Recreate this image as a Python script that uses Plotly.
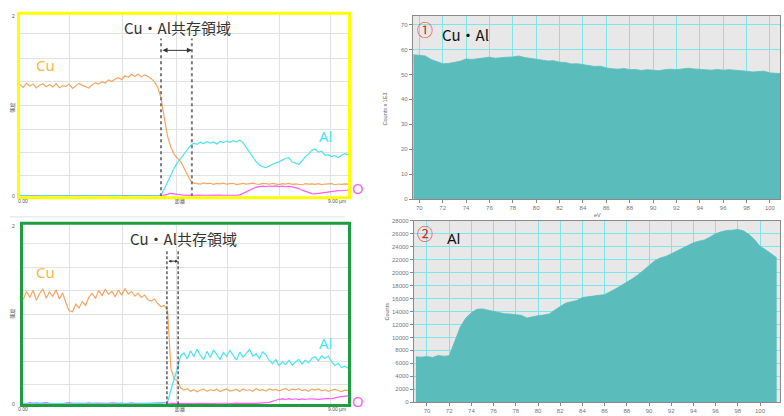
import plotly.graph_objects as go

W, H = 784, 416

# ---------------- data ----------------
dist = list(range(101))  # distance index along line scan

cu_top = [61.5, 60.0, 62.3, 60.8, 61.9, 59.7, 61.2, 62.0, 60.4, 61.6,
          60.2, 62.1, 59.8, 61.0, 60.5, 61.8, 59.4, 60.9, 62.2, 61.1,
          60.3, 59.6, 61.4, 62.5, 61.9, 63.0, 62.4, 64.1, 63.2, 64.6,
          65.3, 64.2, 66.4, 65.6, 67.2, 66.0, 67.4, 65.8, 66.9, 66.1,
          64.8, 63.0, 60.0, 54.0, 43.0, 33.0, 27.0, 23.0, 21.0, 19.0,
          15.5, 12.0, 8.5, 7.2, 7.0, 6.6, 7.3, 6.9, 7.1, 6.5,
          7.0, 6.8, 7.2, 6.6, 6.9, 7.1, 6.4, 6.9, 7.0, 6.6,
          6.8, 7.2, 6.7, 6.5, 7.0, 6.8, 6.6, 7.1, 6.7, 6.4,
          6.9, 6.6, 7.0, 6.5, 6.8, 6.7, 6.3, 6.9, 6.6, 6.8,
          6.5, 6.9, 6.4, 6.7, 6.6, 6.9, 6.3, 6.7, 6.5, 6.8,
          6.6]
al_top = [0.3, 0.2, 0.4, 0.2, 0.3, 0.1, 0.3, 0.2, 0.4, 0.2,
          0.3, 0.2, 0.1, 0.3, 0.2, 0.4, 0.2, 0.3, 0.1, 0.2,
          0.3, 0.4, 0.2, 0.3, 0.1, 0.2, 0.3, 0.2, 0.4, 0.2,
          0.3, 0.1, 0.2, 0.3, 0.2, 0.4, 0.3, 0.2, 0.1, 0.3,
          0.3, 0.2, 0.3, 0.8, 4.0, 8.0, 12.0, 15.5, 18.5, 21.0,
          23.5, 26.0, 28.0, 29.2, 28.6, 29.8, 29.0, 30.1, 29.3, 29.9,
          28.8, 30.2, 29.5, 30.4, 29.7, 30.6, 30.0, 30.9, 29.5, 26.8,
          24.0, 21.4, 19.0, 17.2, 16.2, 15.8, 16.8, 17.6, 18.4, 18.9,
          19.8, 20.9, 21.2, 18.8, 18.2, 17.6, 19.5, 21.8, 23.3, 25.4,
          25.9, 24.3, 24.8, 22.5, 22.9, 21.8, 22.4, 21.2, 22.6, 23.4,
          22.8]
o_top = [0.2, 0.3, 0.1, 0.2, 0.3, 0.2, 0.1, 0.2, 0.3, 0.2,
         0.2, 0.1, 0.3, 0.2, 0.2, 0.3, 0.1, 0.2, 0.2, 0.3,
         0.2, 0.1, 0.2, 0.3, 0.2, 0.2, 0.1, 0.3, 0.2, 0.2,
         0.3, 0.2, 0.1, 0.2, 0.3, 0.2, 0.2, 0.1, 0.2, 0.3,
         0.2, 0.2, 0.3, 0.4, 0.6, 1.2, 1.5, 1.3, 1.0, 0.7,
         0.5, 0.6, 0.4, 0.5, 0.6, 0.4, 0.5, 0.5, 0.6, 0.4,
         0.5, 0.6, 0.5, 0.4, 0.5, 0.6, 0.5, 0.7, 1.5, 2.3,
         3.4, 4.3, 5.0, 5.3, 5.5, 5.2, 5.6, 5.4, 5.7, 5.3,
         5.5, 5.2, 5.4, 5.1, 4.8, 4.2, 3.3, 2.6, 1.9, 1.4,
         1.3, 1.6, 1.8, 1.9, 2.2, 2.6, 2.9, 3.1, 3.0, 3.3,
         3.4]

cu_bottom = [61.0, 58.5, 62.8, 59.4, 63.5, 57.9, 61.7, 64.2, 59.0, 62.6,
             60.1, 63.8, 58.7, 62.0, 56.4, 52.0, 51.5, 55.8, 53.6, 57.2,
             55.0, 59.6, 61.8, 58.9, 63.4, 60.5, 64.0, 61.2, 62.9, 59.8,
             63.6, 60.7, 64.4, 61.5, 62.8, 60.2, 61.9, 59.5, 60.8, 58.2,
             57.4, 58.6, 56.1, 54.3, 55.0, 52.0, 20.0, 14.0, 13.0, 9.0,
             7.8, 8.6, 7.2, 8.1, 6.9, 7.9, 8.4, 7.1, 8.0, 7.5,
             8.3, 7.0, 7.8, 8.5, 7.3, 7.9, 8.2, 7.0, 8.4, 7.6,
             8.0, 7.2, 8.6, 7.7, 8.1, 7.3, 8.5, 7.8, 8.2, 7.4,
             8.0, 8.7, 7.5, 8.3, 7.9, 8.6, 7.6, 8.1, 7.2, 8.4,
             7.8, 8.5, 7.4, 8.0, 7.1, 7.9, 8.3, 7.6, 7.0, 7.8,
             7.5]
al_bottom = [0.3, 0.2, 0.4, 0.3, 0.2, 0.4, 0.3, 0.2, 0.3, 0.4,
             0.2, 0.3, 0.4, 0.2, 0.3, 0.2, 0.4, 0.3, 0.2, 0.3,
             0.4, 0.2, 0.3, 0.3, 0.2, 0.4, 0.3, 0.2, 0.3, 0.4,
             0.2, 0.3, 0.2, 0.4, 0.3, 0.2, 0.3, 0.4, 0.2, 0.3,
             0.3, 0.5, 0.6, 0.4, 0.5, 1.0, 8.0, 13.5, 20.0, 27.0,
             28.5, 25.2, 29.8, 26.4, 30.6, 27.2, 24.8, 29.4, 26.0, 30.2,
             27.6, 25.0, 28.8, 26.6, 30.0, 27.0, 24.6, 29.0, 26.2, 28.4,
             30.4, 26.8, 28.0, 25.4, 29.2, 27.4, 24.2, 22.6, 24.8, 21.4,
             23.6, 22.0, 24.4, 21.8, 23.2, 25.0, 22.4, 24.6, 23.0, 25.6,
             26.4, 24.2, 27.0, 25.4, 26.8, 23.6, 21.6, 22.8, 20.4, 21.2,
             20.0]
o_bottom = [0.4, 0.6, 0.3, 0.8, 0.5, 0.7, 0.4, 0.6, 0.9, 0.5,
            0.4, 0.7, 0.5, 0.3, 0.6, 0.8, 0.5, 0.4, 0.6, 0.3,
            0.5, 0.7, 0.4, 0.6, 0.5, 0.3, 0.6, 0.4, 0.7, 0.5,
            0.4, 0.6, 0.3, 0.5, 0.7, 0.4, 0.5, 0.6, 0.3, 0.5,
            0.4, 0.6, 0.5, 0.7, 0.9, 0.6, 0.4, 0.5, 0.3, 0.5,
            0.4, 0.6, 0.5, 0.3, 0.5, 0.4, 0.6, 0.5, 0.4, 0.3,
            0.5, 0.6, 0.4, 0.5, 0.3, 0.5, 0.6, 0.4, 0.5, 0.4,
            0.6, 0.5, 0.4, 0.6, 0.5, 0.7, 1.0, 1.6, 2.2, 2.7,
            2.9, 2.6, 3.1, 2.7, 3.0, 2.5, 2.9, 2.6, 3.0, 2.7,
            2.8, 2.6, 2.9, 3.0, 3.2, 3.0, 3.6, 3.9, 4.2, 4.4,
            4.6]

coexist_top = [43.0, 52.4]      # boundaries of Cu/Al coexistence region
coexist_bottom = [44.8, 48.2]
arrow_level_top = 80.4
arrow_level_bottom = 79.7
marker_top_level = 87.0
marker_bottom_level = 86.3

ev_top = [round(69.5 + 0.5 * i, 1) for i in range(64)]
counts_top = [57.9, 57.8, 57.4, 56.0, 55.0, 54.3, 54.4, 54.8, 55.3, 56.2,
              56.0, 56.3, 56.6, 56.9, 56.5, 56.8, 56.9, 57.0, 57.4, 56.8,
              56.4, 55.9, 55.8, 55.4, 55.5, 54.9, 54.8, 54.2, 54.3, 53.9,
              53.6, 53.2, 53.3, 52.6, 52.3, 52.1, 52.4, 51.9, 52.0, 51.6,
              51.9, 51.7, 51.5, 51.9, 52.1, 51.9, 52.3, 52.5, 52.2, 52.1,
              51.9, 51.7, 52.0, 51.7, 51.9, 51.8, 51.4, 51.3, 51.0, 51.1,
              51.3, 50.6, 50.3, 50.3]

ev_bottom = [round(69.0 + 0.5 * i, 1) for i in range(66)]
counts_bottom = [7000, 6950, 7050, 6900, 7200, 7100, 7150, 9300, 11600, 13000,
                 13800, 14350, 14400, 14200, 14000, 13850, 13650, 13600, 13500, 13400,
                 13000, 13200, 13350, 13450, 13600, 14200, 14800, 15300, 15500, 15700,
                 16150, 16300, 16400, 16500, 16600, 17000, 17500, 18000, 18500, 19050,
                 19650, 20350, 21100, 21800, 22250, 22500, 22900, 23350, 23750, 24150,
                 24600, 24850, 25050, 25500, 26000, 26300, 26500, 26550, 26650, 26450,
                 25900, 25100, 24050, 23550, 22900, 22300]

top_yticks = list(range(0, 71, 10))
bottom_yticks = list(range(0, 28001, 2000))
ev_ticks = list(range(70, 101, 2))
left_xgrid = [15.2, 31.4, 47.6, 63.4, 79.0, 94.8]
left_ygrid = [11.2, 24.0, 36.5, 50.0, 63.5, 76.0, 89.5]

# ---------------- styling ----------------
CU = "#f5a662"
AL = "#4ae4f0"
OX = "#ff5cf4"
FILL = "#5bbcbc"
GRIDC = "#7ee6ea"
JP = "Noto Sans CJK JP, Noto Sans, sans-serif"


def fx(p):
    return p / W


def fy(p):
    return 1 - p / H


fig = go.Figure()

for xs, ys, col, xa, ya in [
    (dist, o_top, OX, "x", "y"), (dist, cu_top, CU, "x", "y"), (dist, al_top, AL, "x", "y"),
    (dist, o_bottom, OX, "x2", "y2"), (dist, cu_bottom, CU, "x2", "y2"), (dist, al_bottom, AL, "x2", "y2"),
]:
    fig.add_trace(go.Scatter(x=xs, y=ys, mode="lines", line=dict(color=col, width=1.2),
                             xaxis=xa, yaxis=ya, showlegend=False, hoverinfo="skip"))

fig.add_trace(go.Scatter(x=ev_top, y=counts_top, mode="lines", fill="tozeroy",
                         fillcolor=FILL, line=dict(color=FILL, width=0.8),
                         xaxis="x3", yaxis="y3", showlegend=False))
fig.add_trace(go.Scatter(x=ev_bottom, y=counts_bottom, mode="lines", fill="tozeroy",
                         fillcolor=FILL, line=dict(color=FILL, width=0.8),
                         xaxis="x4", yaxis="y4", showlegend=False))

left_x = dict(range=[0, 100], tickvals=left_xgrid, showticklabels=False, ticks="",
              showgrid=True, gridcolor="#e2e2e2", gridwidth=1, zeroline=False, showline=False)
left_y = dict(range=[0, 100], tickvals=left_ygrid, showticklabels=False, ticks="",
              showgrid=True, gridcolor="#e2e2e2", gridwidth=1, zeroline=False, showline=False)

right_common = dict(showline=True, mirror=True, linecolor="#8a8a8a", linewidth=1.2,
                    showgrid=True, gridcolor=GRIDC, gridwidth=1.2, zeroline=False,
                    ticks="outside", ticklen=3, tickcolor="#888", tickformat="d",
                    tickfont=dict(size=6, color="#777", family="Liberation Sans"))

fig.update_layout(
    width=W, height=H,
    margin=dict(l=0, r=0, t=0, b=0),
    paper_bgcolor="white", plot_bgcolor="white",
    xaxis=dict(domain=[fx(20), fx(348)], anchor="y", **left_x),
    yaxis=dict(domain=[fy(196), fy(12)], anchor="x", **left_y),
    xaxis2=dict(domain=[fx(20), fx(348)], anchor="y2", **left_x),
    yaxis2=dict(domain=[fy(407), fy(225)], anchor="x2", **left_y),
    xaxis3=dict(domain=[fx(413), fx(780)], anchor="y3", range=[69.46, 100.86],
                tickvals=ev_ticks, **right_common),
    yaxis3=dict(domain=[fy(199), fy(13)], anchor="x3", range=[0, 73.5],
                tickvals=top_yticks, **right_common),
    xaxis4=dict(domain=[fx(414), fx(780)], anchor="y4", range=[68.83, 101.8],
                tickvals=ev_ticks, **right_common),
    yaxis4=dict(domain=[fy(405), fy(221)], anchor="x4", range=[0, 28000],
                tickvals=bottom_yticks, **right_common),
)

shapes = []
# grey backgrounds for spectra
shapes.append(dict(type="rect", xref="paper", yref="paper", x0=fx(413), x1=fx(780),
                   y0=fy(199), y1=fy(13), fillcolor="#e8e8e8", line=dict(width=0), layer="below"))
shapes.append(dict(type="rect", xref="paper", yref="paper", x0=fx(414), x1=fx(780),
                   y0=fy(405), y1=fy(221), fillcolor="#e8e8e8", line=dict(width=0), layer="below"))
# panel borders
shapes.append(dict(type="rect", xref="paper", yref="paper", x0=fx(18.5), x1=fx(349.5),
                   y0=fy(197.5), y1=fy(10.5), line=dict(color="#ffff00", width=3)))
shapes.append(dict(type="rect", xref="paper", yref="paper", x0=fx(21.5), x1=fx(349.5),
                   y0=fy(408.5), y1=fy(223.5), line=dict(color="#1e9e40", width=3)))
shapes.append(dict(type="line", xref="paper", yref="paper", x0=fx(10), x1=fx(345),
                   y0=fy(217), y1=fy(217), line=dict(color="#e0e0e0", width=1)))
# coexistence boundaries
for xv in coexist_top:
    shapes.append(dict(type="line", xref="x", yref="y", x0=xv, x1=xv, y0=0, y1=marker_top_level,
                       line=dict(color="#7a7a7a", width=2, dash="dot")))
for xv in coexist_bottom:
    shapes.append(dict(type="line", xref="x2", yref="y2", x0=xv, x1=xv, y0=0, y1=marker_bottom_level,
                       line=dict(color="#333", width=1.2, dash="3px,2px")))
fig.update_layout(shapes=shapes)

ann = []


def text(xp, yp, s, size, color, family=JP, angle=0, xanchor="center"):
    ann.append(dict(x=fx(xp), y=fy(yp), xref="paper", yref="paper", text=s, showarrow=False,
                    font=dict(size=size, color=color, family=family), textangle=angle,
                    xanchor=xanchor, yanchor="middle"))


# arrows for coexistence width
ann.append(dict(x=coexist_top[1], y=arrow_level_top, ax=coexist_top[0], ay=arrow_level_top,
                xref="x", yref="y", axref="x", ayref="y", text="", showarrow=True,
                arrowhead=2, startarrowhead=2, arrowside="end+start", arrowwidth=1,
                arrowsize=1, startarrowsize=1, arrowcolor="#333"))
ann.append(dict(x=coexist_bottom[1], y=arrow_level_bottom, ax=coexist_bottom[0], ay=arrow_level_bottom,
                xref="x2", yref="y2", axref="x2", ayref="y2", text="", showarrow=True,
                arrowhead=2, startarrowhead=2, arrowside="end+start", arrowwidth=1,
                arrowsize=0.6, startarrowsize=0.6, arrowcolor="#333"))

# titles and element labels
text(177, 25, "Cu・Al共存領域", 15, "#333")
text(183, 239, "Cu・Al共存領域", 15, "#333")
text(45, 63, "Cu", 15, "#fbb64a", family="Noto Sans, sans-serif")
text(45, 273, "Cu", 15, "#fbb64a", family="Noto Sans, sans-serif")
text(325, 135, "Al", 15, AL, family="Noto Sans, sans-serif")
text(325, 345, "Al", 15, AL, family="Noto Sans, sans-serif")
text(358, 188, "O", 15, OX, family="Noto Sans, sans-serif")
text(358, 404, "O", 15, OX, family="Noto Sans, sans-serif")

# small axis texts of line scans
for yb in [201, 412]:
    text(23, yb, "0.00", 5, "#555", family="Liberation Sans")
    text(180, yb, "距離", 5, "#555")
    text(337, yb, "9.00 µm", 5, "#555", family="Liberation Sans")
text(13, 13, "2", 5, "#555", family="Liberation Sans")
text(12, 106, "強度", 5, "#555", angle=-90)
text(13, 196, "0", 5, "#555", family="Liberation Sans")
text(13, 226, "2", 5, "#555", family="Liberation Sans")
text(12, 315, "強度", 5, "#555", angle=-90)
text(13, 407, "0", 5, "#555", family="Liberation Sans")

# spectra labels
text(425, 26, "①", 16, "#ee1c1c")
text(440, 32, "Cu・Al", 15, "#111", xanchor="left")
text(425, 233, "②", 16, "#ee1c1c")
text(445, 238, "Al", 15, "#111", family="Noto Sans, sans-serif", xanchor="left")
text(385, 108, "Counts x 1E3", 5.5, "#666", family="Liberation Sans", angle=-90)
text(387, 313, "Counts", 5.5, "#666", family="Liberation Sans", angle=-90)
text(597, 215, "eV", 5.5, "#666", family="Liberation Sans")

fig.update_layout(annotations=ann)

fig.write_html(
    "out.html",
    config={"displayModeBar": False},
    post_script="document.documentElement.style.margin='0';document.body.style.margin='0';"
                "document.body.style.overflow='hidden';",
)
